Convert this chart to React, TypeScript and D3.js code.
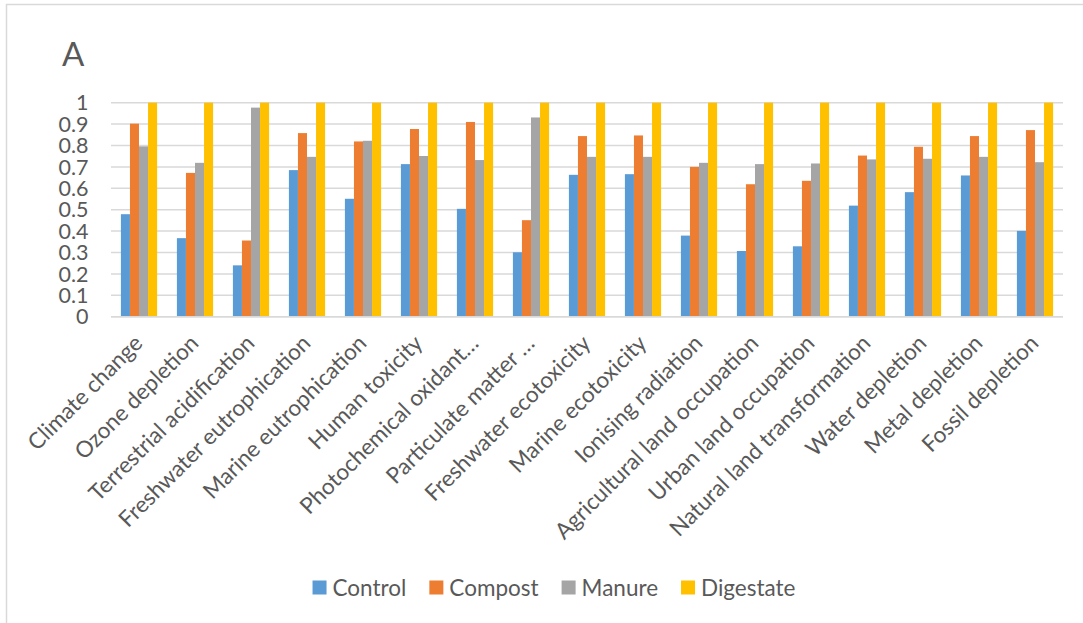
import React from "react";
import * as d3 from "d3";

const categories = [
  "Climate change",
  "Ozone depletion",
  "Terrestrial acidification",
  "Freshwater eutrophication",
  "Marine eutrophication",
  "Human toxicity",
  "Photochemical oxidant…",
  "Particulate matter …",
  "Freshwater ecotoxicity",
  "Marine ecotoxicity",
  "Ionising radiation",
  "Agricultural land occupation",
  "Urban land occupation",
  "Natural land transformation",
  "Water depletion",
  "Metal depletion",
  "Fossil depletion",
];

const seriesNames = ["Control", "Compost", "Manure", "Digestate"];
const seriesColors = ["#5B9BD5", "#ED7D31", "#A5A5A5", "#FFC000"];

const control = [0.479, 0.367, 0.24, 0.685, 0.551, 0.713, 0.504, 0.301, 0.663, 0.666, 0.379, 0.307, 0.329, 0.519, 0.582, 0.66, 0.401];
const compost = [0.902, 0.672, 0.356, 0.858, 0.819, 0.877, 0.91, 0.451, 0.844, 0.847, 0.7, 0.619, 0.635, 0.753, 0.794, 0.844, 0.872];
const manure = [0.796, 0.719, 0.977, 0.747, 0.822, 0.751, 0.732, 0.931, 0.747, 0.747, 0.719, 0.713, 0.716, 0.735, 0.738, 0.747, 0.722];
const digestate = [1, 1, 1, 1, 1, 1, 1, 1, 1, 1, 1, 1, 1, 1, 1, 1, 1];

const yTicks = [0, 0.1, 0.2, 0.3, 0.4, 0.5, 0.6, 0.7, 0.8, 0.9, 1];

const W = 1083;
const H = 623;
const FONT = "Lato, 'Open Sans', sans-serif";
const TEXT = "#595959";
const GRID = "#D9D9D9";

const plot = { left: 111, right: 1063, top: 102.7, bottom: 316.7 };

function measure(text: string, size: number): number {
  const c = document.createElement("canvas").getContext("2d");
  if (!c) return text.length * size * 0.5;
  c.font = `${size}px Lato`;
  return c.measureText(text).width;
}

export default function App() {
  const values = [control, compost, manure, digestate];

  const x0 = d3.scaleBand<string>().domain(categories).range([plot.left, plot.right]).padding(0);
  const step = x0.step();
  const gapRatio = 2.19; // gap width relative to one bar
  const groupW = (step * 4) / (4 + gapRatio);
  const x1 = d3.scaleBand<number>().domain([0, 1, 2, 3]).range([0, groupW]).padding(0);
  const y = d3.scaleLinear().domain([0, 1]).range([plot.bottom, plot.top]);

  // legend layout, centred under the chart
  const legendSize = 22.5;
  const sq = 14;
  const items = seriesNames.map((n) => measure(n, legendSize));
  const itemGap = 23;
  const totalW = items.reduce((a, w) => a + sq + 6 + w, 0) + itemGap * (items.length - 1);
  let lx = 554 - totalW / 2;
  const legendX: number[] = [];
  items.forEach((w) => {
    legendX.push(lx);
    lx += sq + 6 + w + itemGap;
  });

  return (
    <svg
      width={W}
      height={H}
      style={{ position: "absolute", left: 0, top: 0, background: "#fff" }}
      fontFamily={FONT}
    >
      <rect x={0} y={0} width={W} height={H} fill="#fff" />
      <rect x={6.5} y={4.5} width={1200} height={800} fill="none" stroke={GRID} strokeWidth={1.5} />

      <text x={62} y={65.5} fontSize={33} fill={TEXT}>
        A
      </text>

      {/* gridlines */}
      {yTicks.map((t) => (
        <line
          key={t}
          x1={plot.left}
          x2={plot.right}
          y1={y(t)}
          y2={y(t)}
          stroke={GRID}
          strokeWidth={1.5}
        />
      ))}

      {/* y tick labels */}
      {yTicks.map((t) => (
        <text
          key={"l" + t}
          x={88.5}
          y={y(t)}
          dy="0.36em"
          textAnchor="end"
          fontSize={21.5}
          fill={TEXT}
        >
          {d3.format("~g")(t)}
        </text>
      ))}

      {/* bars */}
      {categories.map((c, i) => {
        const gx = (x0(c) as number) + (step - groupW) / 2;
        return (
          <g key={c} transform={`translate(${gx},0)`}>
            {values.map((s, k) => (
              <rect
                key={k}
                x={x1(k) as number}
                y={y(s[i])}
                width={x1.bandwidth()}
                height={y(0) - y(s[i])}
                fill={seriesColors[k]}
              />
            ))}
          </g>
        );
      })}

      {/* category axis line */}
      <line x1={plot.left} x2={plot.right} y1={y(0)} y2={y(0)} stroke={GRID} strokeWidth={1.5} />

      {/* category labels */}
      {categories.map((c) => {
        const cx = (x0(c) as number) + step / 2 + 5;
        const cy = y(0) + 28;
        return (
          <text
            key={"c" + c}
            x={cx}
            y={cy}
            textAnchor="end"
            fontSize={22.5}
            fill={TEXT}
            transform={`rotate(-45,${cx},${cy})`}
          >
            {c}
          </text>
        );
      })}

      {/* legend */}
      {seriesNames.map((n, k) => (
        <g key={n} transform={`translate(${legendX[k]},587.5)`}>
          <rect x={0} y={-sq / 2} width={sq} height={sq} fill={seriesColors[k]} />
          <text x={sq + 6} y={0} dy="0.36em" fontSize={legendSize} fill={TEXT}>
            {n}
          </text>
        </g>
      ))}
    </svg>
  );
}
